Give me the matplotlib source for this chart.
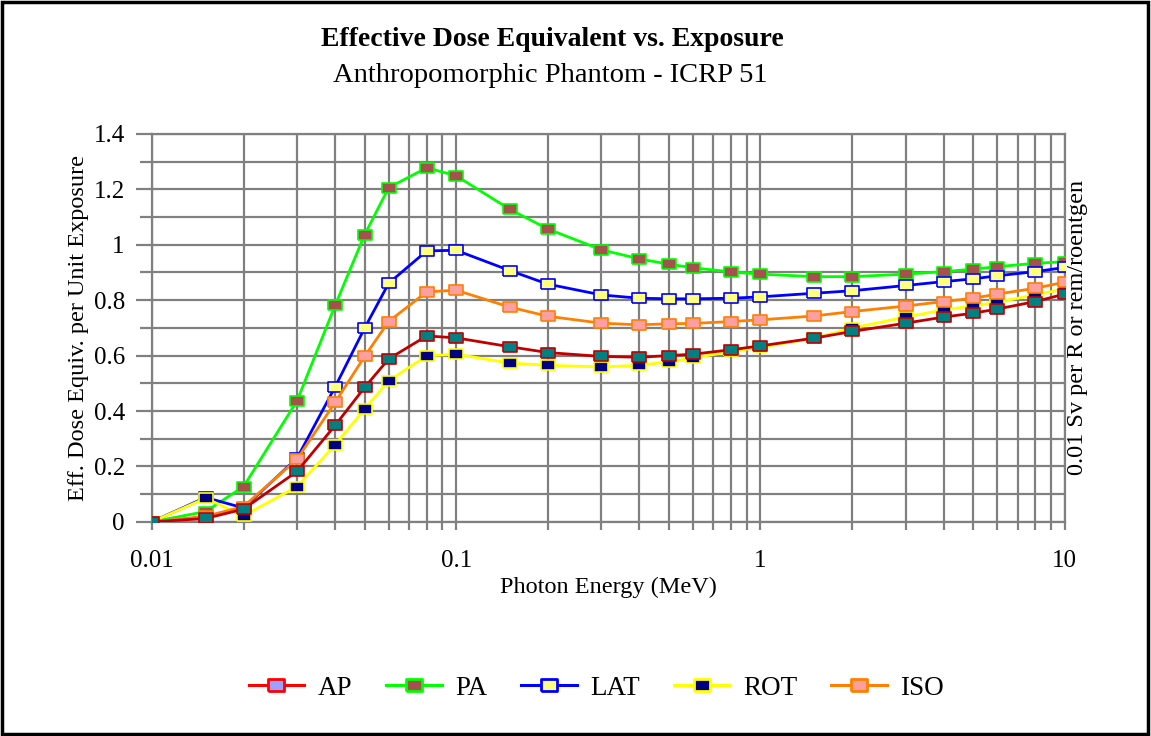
import matplotlib
matplotlib.use("Agg")
import matplotlib.pyplot as plt
from matplotlib.lines import Line2D
from matplotlib.patches import Rectangle
from matplotlib.ticker import FixedLocator, FuncFormatter, NullFormatter

plt.rcParams['font.family'] = ['Liberation Serif', 'DejaVu Serif']

# photon energies (MeV)
energy = [0.01, 0.015, 0.02, 0.03, 0.04, 0.05, 0.06, 0.08, 0.1, 0.15, 0.2, 0.3,
          0.4, 0.5, 0.6, 0.8, 1, 1.5, 2, 3, 4, 5, 6, 8, 10]

# effective dose equivalent per unit exposure
ap  = [0, 0.012, 0.046, 0.182, 0.348, 0.485, 0.588, 0.671, 0.664, 0.632, 0.611, 0.597,
       0.594, 0.600, 0.605, 0.621, 0.635, 0.663, 0.687, 0.717, 0.739, 0.753, 0.768, 0.795, 0.822]
pa  = [0, 0.037, 0.127, 0.437, 0.781, 1.036, 1.206, 1.278, 1.249, 1.128, 1.057, 0.982,
       0.949, 0.930, 0.917, 0.902, 0.894, 0.885, 0.885, 0.894, 0.903, 0.912, 0.921, 0.933, 0.939]
lat = [0, 0.088, 0.050, 0.230, 0.487, 0.699, 0.861, 0.978, 0.980, 0.907, 0.858, 0.819,
       0.807, 0.805, 0.805, 0.807, 0.812, 0.825, 0.834, 0.853, 0.867, 0.877, 0.888, 0.903, 0.918]
rot = [0, 0.085, 0.022, 0.127, 0.278, 0.407, 0.509, 0.599, 0.605, 0.573, 0.565, 0.559,
       0.565, 0.578, 0.591, 0.615, 0.630, 0.663, 0.699, 0.739, 0.765, 0.779, 0.793, 0.819, 0.841]
iso = [0, 0.020, 0.055, 0.226, 0.431, 0.597, 0.723, 0.830, 0.836, 0.775, 0.742, 0.717,
       0.711, 0.715, 0.716, 0.723, 0.729, 0.743, 0.759, 0.779, 0.795, 0.807, 0.822, 0.843, 0.865]

names = ['AP', 'PA', 'LAT', 'ROT', 'ISO']
series = [ap, pa, lat, rot, iso]
line_cols = ['#c00000', '#00ff00', '#0000ff', '#ffff00', '#ff8000']
fill_cols = ['#008080', '#a5524e', '#ffff80', '#000080', '#ff9f9f']
legend_line = ['#ff0000', '#00ff00', '#0000ff', '#ffff00', '#ff8000']
legend_fill = ['#9f9fff', '#a5524e', '#ffff80', '#000080', '#ff9f9f']
zorders = [8, 4, 5, 6, 7]

# flat rectangle marker like the spreadsheet one
rect = [(-1.45, -1), (1.45, -1), (1.45, 1), (-1.45, 1), (-1.45, -1)]

fig = plt.figure(figsize=(11.51, 7.36), dpi=100)
ax = fig.add_axes([0.132, 0.291, 0.793, 0.527])

for y, c, f, z in zip(series, line_cols, fill_cols, zorders):
    ax.plot(energy, y, color=c, lw=2, marker=rect, markersize=10.5,
            markerfacecolor=f, markeredgecolor=c, markeredgewidth=1.2, zorder=z)

ax.set_xscale('log')
ax.set_xlim(0.01, 10)
ax.set_ylim(0, 1.4)

grid_col = '#808080'
ax.xaxis.set_major_locator(FixedLocator([0.01, 0.1, 1, 10]))
ax.xaxis.set_minor_locator(FixedLocator([m * d for d in [0.01, 0.1, 1] for m in range(2, 10)]))
ax.xaxis.set_major_formatter(FuncFormatter(lambda v, p: '%g' % v))
ax.xaxis.set_minor_formatter(NullFormatter())
ax.yaxis.set_major_locator(FixedLocator([0, 0.2, 0.4, 0.6, 0.8, 1.0, 1.2, 1.4]))
ax.yaxis.set_minor_locator(FixedLocator([0.1, 0.3, 0.5, 0.7, 0.9, 1.1, 1.3]))
ax.yaxis.set_major_formatter(FuncFormatter(lambda v, p: '%g' % v))

ax.grid(True, which='both', color=grid_col, lw=1.6)
ax.set_axisbelow(True)
ax.tick_params(axis='x', which='both', direction='out', length=6, width=1.6,
               color=grid_col, labelsize=18, pad=14)
ax.tick_params(axis='y', which='major', direction='out', length=11.5, width=1.6,
               color=grid_col, labelsize=18, pad=8)
ax.tick_params(axis='y', which='minor', direction='out', length=8.5, width=1.6, color=grid_col)
for s in ax.spines.values():
    s.set_color(grid_col)
    s.set_linewidth(1.6)

ax.set_xlabel('Photon Energy (MeV)', fontsize=17.5, va='center')
ax.xaxis.set_label_coords(0.5, -0.17)
ax.set_ylabel('Eff. Dose Equiv. per Unit Exposure', fontsize=17.5, va='center', ha='center')
ax.yaxis.set_label_coords(-0.08, 0.5)
ax.text(1.0145, 0.5, '0.01 Sv per R or rem/roentgen', transform=ax.transAxes,
        rotation=90, va='center', ha='center', fontsize=17.5)

fig.text(0.480, 0.947, 'Effective Dose Equivalent vs. Exposure', ha='center', va='center',
         fontsize=20, fontweight='bold')
fig.text(0.478, 0.898, 'Anthropomorphic Phantom - ICRP 51', ha='center', va='center',
         fontsize=20.5)

handles = [Line2D([], [], color=lc, lw=2.2, marker=rect, markersize=11.5,
                  markerfacecolor=fc, markeredgecolor=lc, markeredgewidth=2)
           for lc, fc in zip(legend_line, legend_fill)]
fig.legend(handles, names, loc='center', bbox_to_anchor=(0.518, 0.065), ncol=5,
           frameon=False, fontsize=19.5, handlelength=2.05, handletextpad=0.5,
           columnspacing=1.25)

fig.patches.append(Rectangle((0.002, 0.003), 0.995, 0.994, transform=fig.transFigure,
                             fill=False, ec='black', lw=2.5))

fig.savefig('out.png', dpi=100)
